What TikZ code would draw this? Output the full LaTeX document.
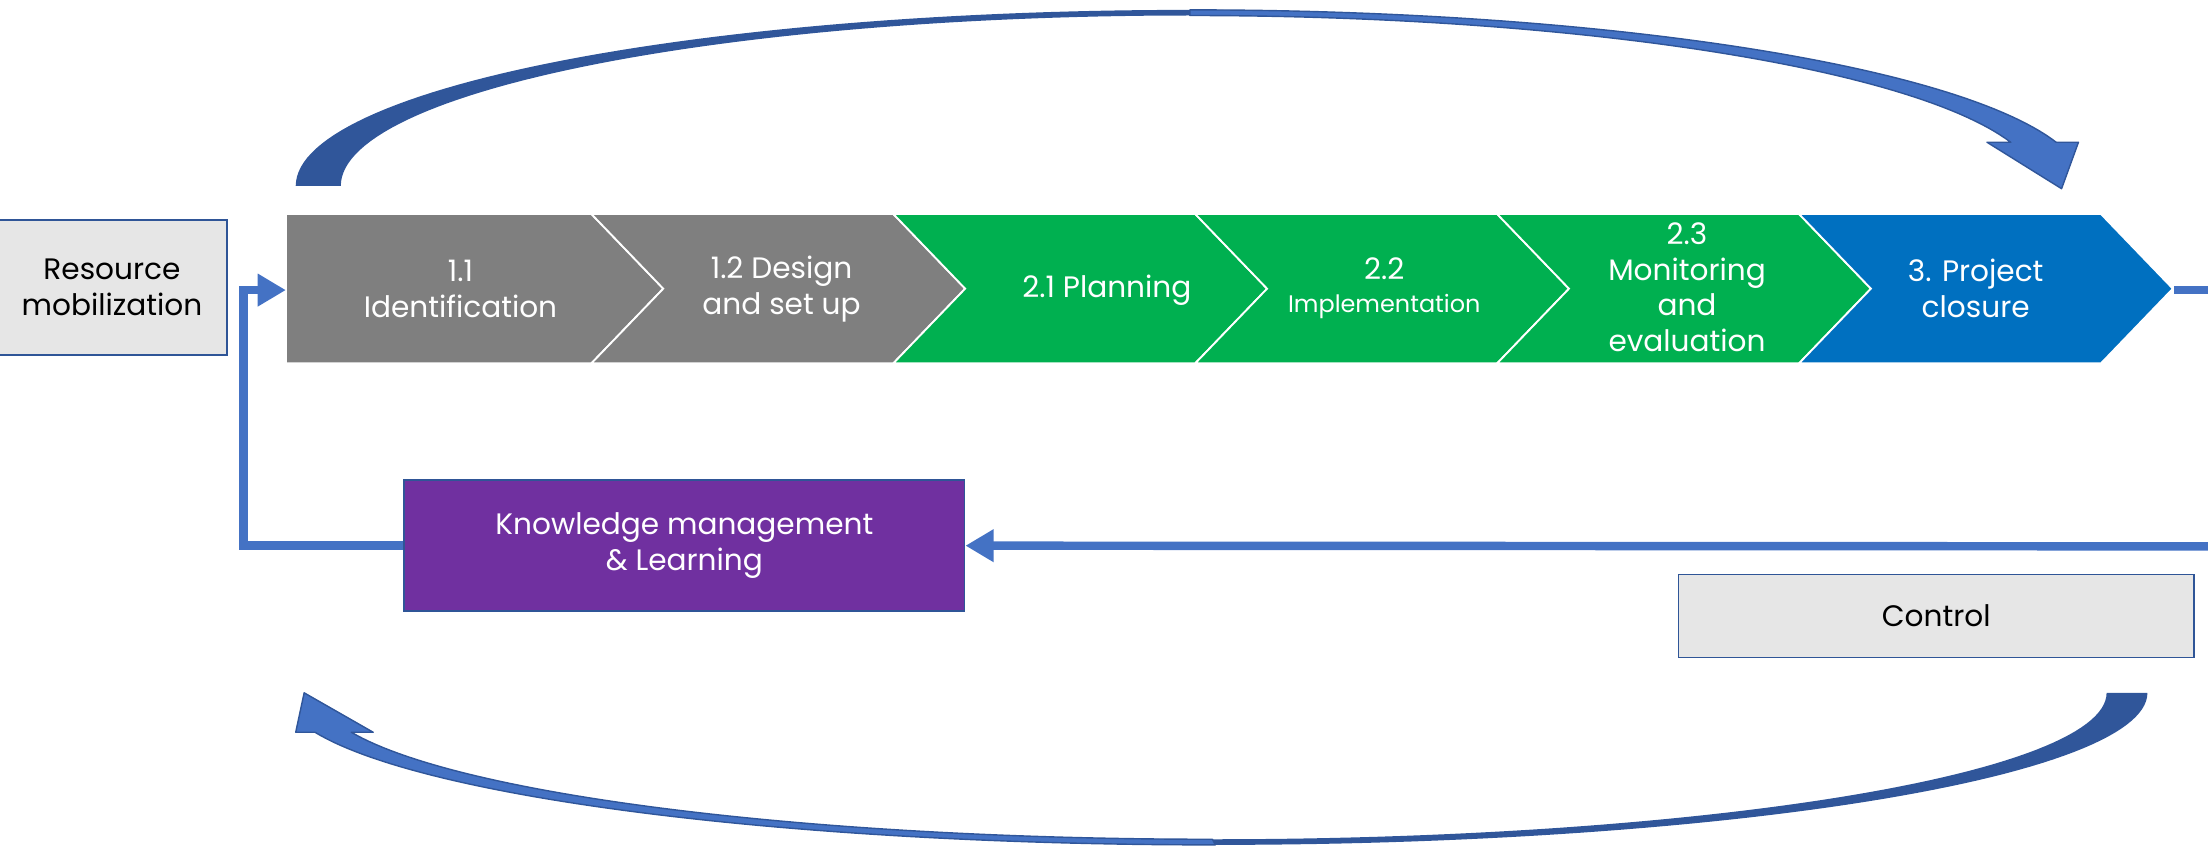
\documentclass[tikz,border=0pt]{standalone}
\usepackage{fontspec}
\setmainfont{Poppins}
\usetikzlibrary{arrows.meta}
\definecolor{cgray}{HTML}{7F7F7F}
\definecolor{cgreen}{HTML}{00B050}
\definecolor{cblue}{HTML}{0070C0}
\definecolor{cpurple}{HTML}{7030A0}
\definecolor{cbox}{HTML}{E6E6E6}
\definecolor{cborder}{HTML}{2F5597}
\definecolor{cconn}{HTML}{4472C4}
\definecolor{cdark}{HTML}{30569A}
\tikzset{
  chev/.style={draw=white, line width=1.3pt, line join=miter},
  wtext/.style={text=white, align=center, font=\fontsize{21}{25.5}\selectfont},
  btext/.style={text=black, align=center, font=\fontsize{21}{25.5}\selectfont},
  greybox/.style={draw=cborder, line width=1.2pt, fill=cbox, inner sep=0pt},
  conn/.style={draw=cconn, line width=6pt, line join=miter},
  tip/.style={-{Triangle[length=20pt,width=22pt]}},
  backarc/.style={fill=cdark},
  frontarc/.style={fill=cconn, draw=cdark, line width=1pt, line join=round}
}
\begin{document}
\begin{tikzpicture}[x=1pt,y=-1pt]
\useasboundingbox (0,0) rectangle (1568,602);

% chevrons
\fill[cgray,chev] (203,152) -- (420,152) -- (471,205) -- (420,258) -- (203,258) -- cycle;
\fill[cgray,chev] (420,152) -- (634.4,152) -- (685.4,205) -- (634.4,258) -- (420,258) -- (471,205) -- cycle;
\fill[cgreen,chev] (634.4,152) -- (848.8,152) -- (899.8,205) -- (848.8,258) -- (634.4,258) -- (685.4,205) -- cycle;
\fill[cgreen,chev] (848.8,152) -- (1063.2,152) -- (1114.2,205) -- (1063.2,258) -- (848.8,258) -- (899.8,205) -- cycle;
\fill[cgreen,chev] (1063.2,152) -- (1277.6,152) -- (1328.6,205) -- (1277.6,258) -- (1063.2,258) -- (1114.2,205) -- cycle;
\fill[cblue,chev] (1277.6,152) -- (1492,152) -- (1543,205) -- (1492,258) -- (1277.6,258) -- (1328.6,205) -- cycle;

\node[wtext] (t11) at (327,205) {1.1\\Identification};
\node[wtext] (t12) at (555,205) {1.2 Design\\and set up};
\node[wtext] (t21) at (786,206) {2.1 Planning};
\node[wtext] (t22) at (983,205) {2.2\\[-2pt]{\fontsize{17}{20}\selectfont Implementation}};
\node[wtext] (t23) at (1198,204) {2.3\\Monitoring\\and\\evaluation};
\node[wtext] (t3) at (1403,205) {3. Project\\closure};

\coordinate (c1in) at (203,206);
\coordinate (c6out) at (1544,206);
\coordinate (redge) at (1570,206);
\coordinate (rin) at (1570,388);
\coordinate (lx) at (173,206);

% boxes
\node[greybox, btext, minimum width=163pt, minimum height=96pt] (res) at (79.5,204) {Resource\\mobilization};
\node[draw=cborder, line width=1.2pt, fill=cpurple, wtext, minimum width=398pt, minimum height=93pt] (km) at (486,387.5) {Knowledge management\\\& Learning};
\node[greybox, btext, minimum width=366pt, minimum height=59pt] (ctrl) at (1375,437.5) {Control};

% connectors
\draw[conn] (c6out) -- (redge);
\draw[conn, tip] (rin) -- (km.east);
\draw[conn, tip] (km.west) -| (lx) -- (c1in);

% top curved arrow
\fill[backarc] plot[domain=180:90,samples=60] ({845+635*cos(\x)},{132-125*sin(\x)})
  -- plot[domain=90:180,samples=60] ({845+603*cos(\x)},{132-121*sin(\x)}) -- cycle;
\filldraw[frontarc] plot[domain=90:14.36,samples=60] ({845+635*cos(\x)},{132-125*sin(\x)})
  -- (1476,101) -- (1464,134) -- (1411,101) -- (1428,101)
  -- plot[domain=14.84:90,samples=60] ({845+603*cos(\x)},{132-121*sin(\x)}) -- cycle;

% bottom curved arrow
\fill[backarc] plot[domain=0:90,samples=60] ({863+662*cos(\x)},{492+108*sin(\x)})
  -- plot[domain=90:0,samples=60] ({861+635*cos(\x)},{492+104*sin(\x)}) -- cycle;
\filldraw[frontarc] plot[domain=90:164.97,samples=60] ({863+662*cos(\x)},{492+108*sin(\x)})
  -- (210,520) -- (216,492) -- (265,520) -- (250,520)
  -- plot[domain=164.38:90,samples=60] ({861+635*cos(\x)},{492+104*sin(\x)}) -- cycle;
\end{tikzpicture}
\end{document}
